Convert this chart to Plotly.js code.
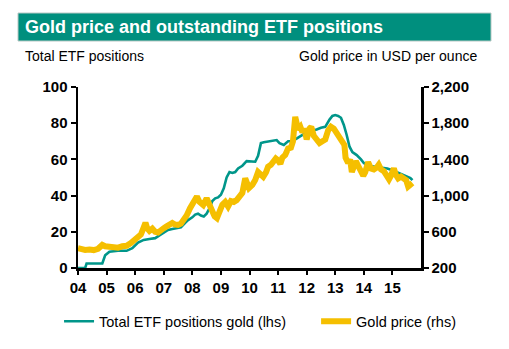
<!DOCTYPE html>
<html>
<head>
<meta charset="utf-8">
<script src="https://cdn.plot.ly/plotly-3.0.1.min.js"></script>
<style>html,body{margin:0;padding:0;background:#fff;}#chart{width:509px;height:349px;}</style>
</head>
<body>
<div id="chart"></div>
<script>
// ETF positions (lhs)
const etfYears = [2004.00,2004.25,2004.28,2004.30,2004.85,2004.95,2005.10,2005.40,2005.70,2005.90,2006.10,2006.30,2006.50,2006.70,2006.85,2007.00,2007.15,2007.30,2007.45,2007.60,2007.75,2007.85,2008.00,2008.10,2008.20,2008.30,2008.40,2008.50,2008.60,2008.70,2008.80,2008.90,2009.00,2009.10,2009.20,2009.30,2009.40,2009.50,2009.60,2009.75,2009.90,2010.05,2010.20,2010.30,2010.40,2010.50,2010.65,2010.80,2010.95,2011.05,2011.20,2011.35,2011.50,2011.70,2011.90,2012.05,2012.20,2012.35,2012.50,2012.65,2012.80,2012.90,2013.00,2013.10,2013.20,2013.30,2013.40,2013.50,2013.60,2013.75,2013.90,2014.00,2014.15,2014.35,2014.60,2014.82,2015.00,2015.15,2015.30,2015.50,2015.63,2015.70];
const etfValues = [0,0,1.5,2.5,2.5,7,9,9.5,9.5,11,14,15.5,16,16.5,18,19.5,21,21.5,22,22.5,25,26.5,28,29.5,30,29,28.5,30,33,37,38.5,39,40.5,44,50,53,52.5,53,55,56.5,59,58.7,58.7,62,69,69.5,69.8,70,70.7,69,68,70,70,72,74,75.5,76,76.5,77.5,78,82,84,84.5,84,83,79,73.5,67,64,62.4,60,58,56.5,56,55.5,55,54,53,52,51,49.7,48.5];
// Gold price USD/oz (rhs)
const goldYears = [2004.00,2004.10,2004.25,2004.40,2004.55,2004.70,2004.85,2004.95,2005.10,2005.25,2005.40,2005.55,2005.70,2005.85,2005.98,2006.10,2006.20,2006.30,2006.36,2006.42,2006.50,2006.60,2006.70,2006.80,2006.90,2007.00,2007.10,2007.20,2007.30,2007.40,2007.50,2007.60,2007.70,2007.80,2007.92,2008.05,2008.16,2008.25,2008.38,2008.50,2008.60,2008.68,2008.78,2008.86,2008.95,2009.05,2009.15,2009.25,2009.35,2009.45,2009.55,2009.65,2009.75,2009.85,2009.92,2009.98,2010.10,2010.20,2010.30,2010.40,2010.48,2010.58,2010.65,2010.75,2010.83,2010.92,2011.00,2011.08,2011.15,2011.25,2011.35,2011.45,2011.52,2011.60,2011.65,2011.70,2011.78,2011.85,2011.92,2012.00,2012.10,2012.16,2012.25,2012.35,2012.45,2012.55,2012.65,2012.75,2012.85,2012.95,2013.05,2013.15,2013.25,2013.32,2013.36,2013.45,2013.52,2013.58,2013.65,2013.72,2013.80,2013.90,2013.98,2014.05,2014.15,2014.25,2014.35,2014.45,2014.52,2014.60,2014.70,2014.80,2014.88,2014.95,2015.05,2015.12,2015.20,2015.30,2015.40,2015.48,2015.55,2015.62,2015.70];
const goldValues = [418,410,400,405,398,412,455,440,430,432,425,440,445,475,510,550,570,650,700,640,610,635,600,592,625,640,660,670,697,680,675,690,730,780,860,920,990,930,896,970,900,822,770,750,840,900,930,880,940,930,950,990,1030,1190,1120,1084,1120,1172,1260,1230,1208,1260,1319,1340,1380,1410,1390,1350,1420,1450,1520,1530,1600,1870,1800,1730,1760,1700,1740,1620,1740,1760,1660,1620,1580,1600,1620,1720,1760,1740,1690,1660,1600,1560,1420,1360,1400,1260,1320,1380,1330,1280,1220,1260,1370,1300,1290,1310,1340,1290,1270,1220,1180,1220,1300,1230,1190,1210,1190,1170,1100,1120,1140];
// Tick labels
const xTickVals = [2004,2005,2006,2007,2008,2009,2010,2011,2012,2013,2014,2015];
const xTickText = ["04","05","06","07","08","09","10","11","12","13","14","15"];

const FONT = "Liberation Sans, Arial, Helvetica, sans-serif";
const tickFont = {family: FONT, size: 15, color: "#000", weight: "bold"};
const legendFont = {family: FONT, size: 14.5, color: "#000"};

const traces = [
  {x: etfYears, y: etfValues, type: "scatter", mode: "lines", name: "Total ETF positions gold (lhs)",
   line: {color: "#00968A", width: 2.6}, yaxis: "y", legend: "legend"},
  {x: goldYears, y: goldValues, type: "scatter", mode: "lines", name: "Gold price (rhs)",
   line: {color: "#F5BF00", width: 6}, yaxis: "y2", legend: "legend2"}
];

const layout = {
  width: 509, height: 349,
  margin: {l: 78, r: 88, t: 87, b: 81, autoexpand: false},
  paper_bgcolor: "#fff", plot_bgcolor: "#fff",
  showlegend: true,
  font: {family: FONT, color: "#000"},
  xaxis: {range: [2004, 2016], tickvals: xTickVals, ticktext: xTickText, tickfont: tickFont,
    showgrid: false, zeroline: false, showline: true, linecolor: "#000", linewidth: 2.5,
    ticks: "outside", ticklen: 4, tickwidth: 2, tickcolor: "#000"},
  yaxis: {range: [0, 100], dtick: 20, tick0: 0, tickfont: tickFont, showgrid: false, zeroline: false,
    showline: true, linecolor: "#000", linewidth: 2.5, ticks: "outside", ticklen: 5, tickwidth: 2, tickcolor: "#000"},
  yaxis2: {range: [200, 2200], dtick: 400, tick0: 200, tickformat: ",d", tickfont: tickFont, overlaying: "y", side: "right",
    showgrid: false, zeroline: false, showline: true, linecolor: "#000", linewidth: 2.5,
    ticks: "outside", ticklen: 5, tickwidth: 2, tickcolor: "#000"},
  legend: {orientation: "h", xref: "container", yref: "container", x: 0.116, xanchor: "left", y: 0.125, yanchor: "top",
    font: legendFont, bgcolor: "rgba(0,0,0,0)"},
  legend2: {orientation: "h", xref: "container", yref: "container", x: 0.621, xanchor: "left", y: 0.125, yanchor: "top",
    font: legendFont, bgcolor: "rgba(0,0,0,0)"},
  shapes: [
    {type: "rect", xref: "paper", yref: "paper", x0: -0.1749, x1: 1.2041, y0: 1.2541, y1: 1.4088,
     fillcolor: "#008F7E", line: {color: "#B8C8C4", width: 1}, layer: "above"}
  ],
  annotations: [
    {text: "Gold price and outstanding ETF positions", xref: "paper", yref: "paper",
     x: -0.16, y: 1.331, xanchor: "left", yanchor: "middle", showarrow: false,
     font: {family: FONT, size: 18, color: "#fff", weight: "bold"}},
    {text: "Total ETF positions", xref: "paper", yref: "paper", x: -0.16, y: 1.171,
     xanchor: "left", yanchor: "middle", showarrow: false, font: {family: FONT, size: 14, color: "#000"}},
    {text: "Gold price in USD per ounce", xref: "paper", yref: "paper", x: 1.169, y: 1.171,
     xanchor: "right", yanchor: "middle", showarrow: false, font: {family: FONT, size: 14, color: "#000"}}
  ]
};

Plotly.newPlot("chart", traces, layout, {displayModeBar: false, staticPlot: true});
</script>
</body>
</html>
